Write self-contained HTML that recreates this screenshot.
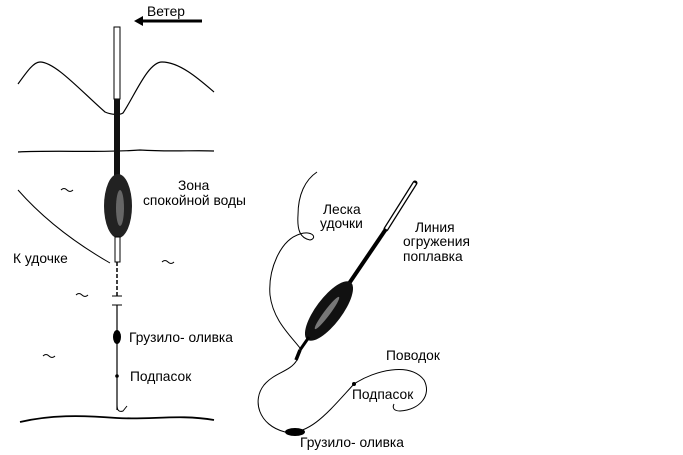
<!DOCTYPE html>
<html><head><meta charset="utf-8"><style>
html,body{margin:0;padding:0;background:#fff;}
svg{display:block;}
text{font-family:"Liberation Sans",sans-serif;font-size:13.8px;fill:#000;}
</style></head><body>
<svg width="683" height="455" viewBox="0 0 683 455" xmlns="http://www.w3.org/2000/svg">
<!-- wind -->
<text x="147" y="16">Ветер</text>
<line x1="140" y1="21" x2="202" y2="21" stroke="#000" stroke-width="3"/>
<polygon points="134,21 143,16 143,26" fill="#000"/>
<!-- waves -->
<path d="M18,84 C28,70 34,62 40,62 C55,62 80,90 105,112 C112,115 120,115 123,113 C135,95 148,62 162,62 C180,62 200,80 214,92" fill="none" stroke="#000" stroke-width="1.2"/>
<path d="M18,152 C60,150 100,153 140,150 C170,152 195,150 214,151" fill="none" stroke="#000" stroke-width="1.2"/>
<!-- line to rod -->
<path d="M18,190 C40,215 70,240 110,263" fill="none" stroke="#000" stroke-width="1"/>
<!-- ripples -->
<path d="M61,190 q3,-3 6,0 q3,3 6,0" fill="none" stroke="#000"/>
<path d="M162,262 q3,-3 6,0 q3,3 6,0" fill="none" stroke="#000"/>
<path d="M76,295 q3,-3 6,0 q3,3 6,0" fill="none" stroke="#000"/>
<path d="M43,356 q3,-3 6,0 q3,3 6,0" fill="none" stroke="#000"/>
<!-- left float -->
<rect x="114" y="27" width="6" height="72" fill="#fff" stroke="#000" stroke-width="1"/>
<rect x="114" y="99" width="6" height="78" fill="#111"/>
<ellipse cx="118" cy="206" rx="14" ry="32" fill="#222"/>
<ellipse cx="120" cy="208" rx="4" ry="18" fill="#666"/>
<rect x="115" y="237" width="5" height="25" fill="#fff" stroke="#000"/>
<line x1="117" y1="262" x2="117" y2="296" stroke="#000" stroke-width="1.5" stroke-dasharray="4,2"/>
<line x1="112" y1="296" x2="122" y2="296" stroke="#000"/>
<line x1="112" y1="305" x2="122" y2="305" stroke="#000"/>
<line x1="117" y1="305" x2="117" y2="410" stroke="#000" stroke-width="1.2"/>
<ellipse cx="117" cy="337" rx="4" ry="7" fill="#000"/>
<circle cx="117" cy="376" r="1.8" fill="#000"/>
<path d="M117,405 q0,8 6,6 l4,-5" fill="none" stroke="#000"/>
<!-- bottom -->
<path d="M20,422 C50,415 80,415 117,418 C150,420 180,414 214,420" fill="none" stroke="#000" stroke-width="1.8"/>
<text x="178" y="190">Зона</text>
<text x="143" y="205">спокойной воды</text>
<text x="13" y="263">К удочке</text>
<text x="129" y="342">Грузило- оливка</text>
<text x="130" y="381">Подпасок</text>
<!-- right float -->
<line x1="415" y1="183" x2="386" y2="229" stroke="#000" stroke-width="5" stroke-linecap="round"/>
<line x1="415" y1="183" x2="386" y2="229" stroke="#fff" stroke-width="2.5"/>
<line x1="386" y1="229" x2="348" y2="285" stroke="#000" stroke-width="4"/>
<ellipse cx="329" cy="311" rx="36" ry="13" transform="rotate(-53 329 311)" fill="#111"/>
<ellipse cx="327" cy="313" rx="20" ry="3" transform="rotate(-53 327 313)" fill="#777"/>
<line x1="309" y1="337" x2="300" y2="350" stroke="#000" stroke-width="3"/>
<line x1="300" y1="350" x2="296" y2="360" stroke="#000" stroke-width="3.5"/>
<!-- leska -->
<path d="M317,172 C305,180 298,195 298,215 C297,230 300,238 310,240 C318,238 312,230 300,234 C280,240 268,270 270,295 C273,320 290,335 300,348" fill="none" stroke="#000" stroke-width="1"/>
<!-- lower line -->
<path d="M297,360 C290,372 275,372 264,385 C252,400 258,425 285,432 C310,436 330,410 354,384 C375,370 410,362 424,380 C432,395 420,410 400,411 C394,411 392,408 394,404" fill="none" stroke="#000" stroke-width="1"/>
<ellipse cx="295" cy="432" rx="10" ry="4" fill="#000"/>
<circle cx="354" cy="384" r="2" fill="#000"/>
<text x="323" y="214">Леска</text>
<text x="320" y="228">удочки</text>
<text x="415" y="232">Линия</text>
<text x="403" y="246">огружения</text>
<text x="403" y="261">поплавка</text>
<text x="386" y="360">Поводок</text>
<text x="352" y="399">Подпасок</text>
<text x="300" y="447">Грузило- оливка</text>
</svg>
</body></html>
